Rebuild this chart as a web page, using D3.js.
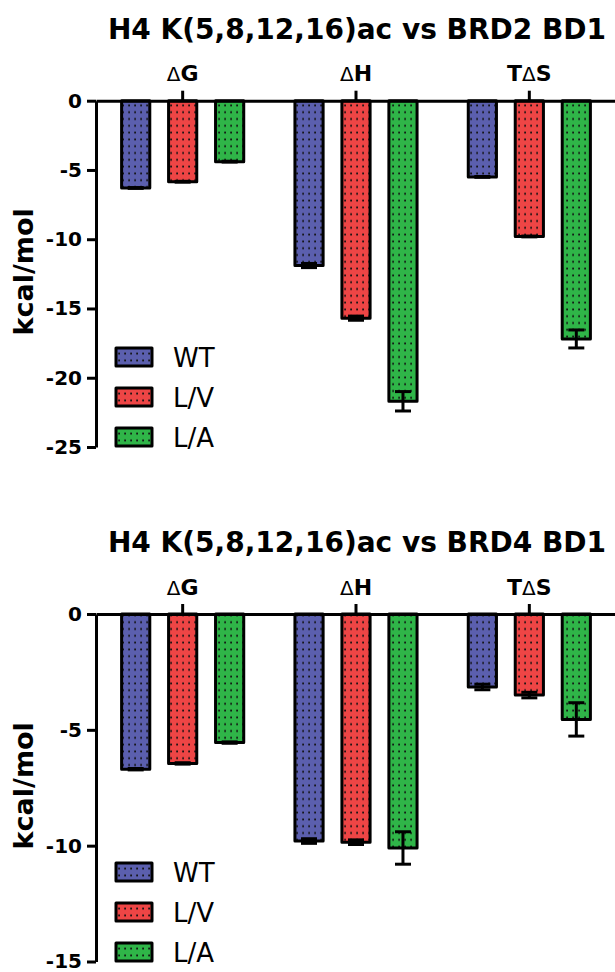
<!DOCTYPE html>
<html>
<head>
<meta charset="utf-8">
<script src="https://cdn.jsdelivr.net/npm/d3@7"></script>
<style>
  body { margin: 0; background: #fff; }
  svg { display: block; font-family: "DejaVu Sans", sans-serif; }
</style>
</head>
<body>
<div id="chart"></div>
<script>
// categories and series
const categories = ["ΔG", "ΔH", "TΔS"];
const seriesNames = ["WT", "L/V", "L/A"];
const seriesColors = ["#5b5fae", "#ee4545", "#2fb548"];

// BRD2 BD1 (kcal/mol)
const brd2WT  = [-6.3, -11.9, -5.5];
const brd2LV  = [-5.85, -15.7, -9.8];
const brd2LA  = [-4.4, -21.7, -17.2];
const brd2WTerr = [0.03, 0.15, 0.03];
const brd2LVerr = [0.03, 0.15, 0.03];
const brd2LAerr = [0.03, 0.7, 0.65];
const brd2Ticks = [0, -5, -10, -15, -20, -25];

// BRD4 BD1 (kcal/mol)
const brd4WT  = [-6.7, -9.8, -3.15];
const brd4LV  = [-6.45, -9.85, -3.5];
const brd4LA  = [-5.55, -10.1, -4.55];
const brd4WTerr = [0.03, 0.1, 0.12];
const brd4LVerr = [0.03, 0.1, 0.12];
const brd4LAerr = [0.03, 0.7, 0.72];
const brd4Ticks = [0, -5, -10, -15];

const W = 615, H = 972;

const svg = d3.select("#chart")
  .append("svg")
  .attr("width", W)
  .attr("height", H);

// dotted fills
const defs = svg.append("defs");
seriesColors.forEach((c, i) => {
  const p = defs.append("pattern")
    .attr("id", "dots" + i)
    .attr("patternUnits", "userSpaceOnUse")
    .attr("width", 6)
    .attr("height", 6.8);
  p.append("rect").attr("width", 6).attr("height", 6.8).attr("fill", c);
  p.append("rect").attr("x", 2.2).attr("y", 2.5).attr("width", 1.8).attr("height", 1.8).attr("fill", "#111");
});

function drawChart(opts) {
  const g = svg.append("g");

  const x = d3.scaleBand()
    .domain(categories)
    .range([96, 616]);

  const xs = d3.scaleBand()
    .domain(seriesNames)
    .range([0, x.bandwidth()])
    .paddingInner(0.4)
    .paddingOuter(0.545);

  const y = d3.scaleLinear()
    .domain([opts.ticks[opts.ticks.length - 1], 0])
    .range([opts.bottom, opts.top]);

  // title
  g.append("text")
    .attr("x", 357)
    .attr("y", opts.top - 62)
    .attr("text-anchor", "middle")
    .attr("font-size", 28)
    .attr("font-weight", "bold")
    .text(opts.title);

  // bars
  const rows = [];
  seriesNames.forEach((s, si) => {
    categories.forEach((c, ci) => {
      rows.push({s: s, si: si, c: c, v: opts.values[si][ci], e: opts.errors[si][ci]});
    });
  });

  g.selectAll(".bar")
    .data(rows)
    .enter()
    .append("rect")
    .attr("class", "bar")
    .attr("x", d => x(d.c) + xs(d.s))
    .attr("y", y(0))
    .attr("width", xs.bandwidth())
    .attr("height", d => y(d.v) - y(0))
    .attr("fill", d => "url(#dots" + d.si + ")")
    .attr("stroke", "#000")
    .attr("stroke-width", 3)
    .attr("stroke-linejoin", "round");

  // error bars
  const err = g.selectAll(".err")
    .data(rows)
    .enter()
    .append("g")
    .attr("class", "err")
    .attr("stroke", "#000")
    .attr("stroke-width", 3);
  const cx = d => x(d.c) + xs(d.s) + xs.bandwidth() / 2;
  err.append("line")
    .attr("x1", cx).attr("x2", cx)
    .attr("y1", d => y(d.v + d.e))
    .attr("y2", d => y(d.v - d.e));
  err.append("line")
    .attr("x1", d => cx(d) - 8).attr("x2", d => cx(d) + 8)
    .attr("y1", d => y(d.v + d.e)).attr("y2", d => y(d.v + d.e));
  err.append("line")
    .attr("x1", d => cx(d) - 8).attr("x2", d => cx(d) + 8)
    .attr("y1", d => y(d.v - d.e)).attr("y2", d => y(d.v - d.e));

  // x axis on top
  const xAxis = g.append("g")
    .attr("transform", `translate(0, ${y(0)})`)
    .call(d3.axisTop(x).tickSize(10).tickSizeOuter(0).tickFormat(""));
  xAxis.selectAll("path, line").attr("stroke", "#000").attr("stroke-width", 3);

  const lab = g.selectAll(".cat")
    .data(categories)
    .enter()
    .append("text")
    .attr("class", "cat")
    .attr("x", d => x(d) + x.bandwidth() / 2)
    .attr("y", y(0) - 19.5)
    .attr("text-anchor", "middle")
    .attr("font-size", 21)
    .attr("font-weight", "bold");
  lab.each(function(d) {
    const t = d3.select(this);
    d.split(/(Δ)/).filter(p => p.length).forEach(p => {
      t.append("tspan")
        .attr("font-weight", p == "Δ" ? "normal" : "bold")
        .attr("font-size", p == "Δ" ? 20 : 22)
        .text(p);
    });
  });

  // y axis
  const yAxis = g.append("g")
    .attr("transform", "translate(96, 0)")
    .call(d3.axisLeft(y).tickValues(opts.ticks).tickSize(9).tickSizeOuter(0).tickPadding(5)
      .tickFormat(d => String(d)));
  yAxis.selectAll("path, line").attr("stroke", "#000").attr("stroke-width", 3);
  yAxis.selectAll("text")
    .attr("font-size", 20)
    .attr("font-weight", "bold")
    .attr("font-family", "DejaVu Sans, sans-serif")
    .attr("fill", "#000");

  g.append("text")
    .attr("transform", `translate(33, ${(opts.top + opts.bottom) / 2 - 2}) rotate(-90)`)
    .attr("text-anchor", "middle")
    .attr("font-size", 27)
    .attr("font-weight", "bold")
    .text("kcal/mol");

  // legend
  const leg = g.selectAll(".leg")
    .data(seriesNames)
    .enter()
    .append("g")
    .attr("class", "leg")
    .attr("transform", (d, i) => `translate(116, ${opts.legendY + i * 40})`);
  leg.append("rect")
    .attr("x", 0)
    .attr("y", -9)
    .attr("width", 36)
    .attr("height", 18)
    .attr("fill", (d, i) => "url(#dots" + i + ")")
    .attr("stroke", "#000")
    .attr("stroke-width", 3)
    .attr("stroke-linejoin", "round");
  leg.append("text")
    .attr("x", 57)
    .attr("y", 9.5)
    .attr("font-size", 26)
    .text(d => d);
}

drawChart({
  title: "H4 K(5,8,12,16)ac vs BRD2 BD1",
  top: 100.7, bottom: 447,
  ticks: brd2Ticks,
  values: [brd2WT, brd2LV, brd2LA],
  errors: [brd2WTerr, brd2LVerr, brd2LAerr],
  legendY: 357
});

drawChart({
  title: "H4 K(5,8,12,16)ac vs BRD4 BD1",
  top: 614, bottom: 961.5,
  ticks: brd4Ticks,
  values: [brd4WT, brd4LV, brd4LA],
  errors: [brd4WTerr, brd4LVerr, brd4LAerr],
  legendY: 872
});
</script>
</body>
</html>
